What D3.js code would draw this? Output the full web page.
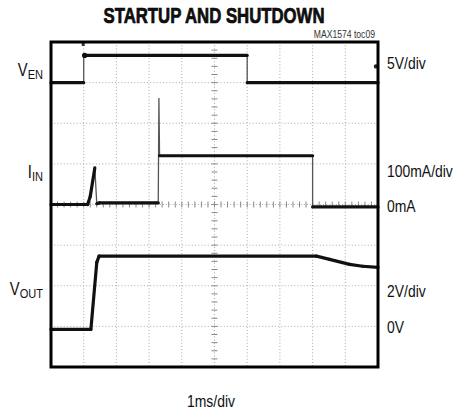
<!DOCTYPE html>
<html>
<head>
<meta charset="utf-8">
<script src="https://cdn.jsdelivr.net/npm/d3@7/dist/d3.min.js"></script>
<style>
  body { margin: 0; background: #fff; }
  text { font-family: "Liberation Sans", Arial, sans-serif; fill: #111; }
</style>
</head>
<body>
<div id="chart"></div>
<script>
// Scope capture, time in ms, each channel in its own units
const venTime = [0, 1.0, 1.0, 6.0, 6.0, 10];
const venVolts = [0, 0, 3.35, 3.35, 0, 0];

const iinTime = [0, 1.12, 1.2, 1.34, 1.4, 1.48, 3.28, 3.3, 3.32, 8.0, 8.0, 10];
const iinMilliamps = [0, 0, 20, 90, 2, 4, 4, 262, 120, 120, -6, -6];

const voutTime = [0, 1.22, 1.4, 1.47, 8.12, 8.52, 9.13, 9.53, 10];
const voutVolts = [-0.15, -0.15, 3.15, 3.46, 3.46, 3.3, 3.05, 2.96, 2.9];

const channels = [
  { name: 'EN', label: 'V', time: venTime, values: venVolts, perDiv: 5, zeroDiv: 7, scaleLabel: '5V/div', zeroLabel: null },
  { name: 'IN', label: 'I', time: iinTime, values: iinMilliamps, perDiv: 100, zeroDiv: 4, scaleLabel: '100mA/div', zeroLabel: '0mA' },
  { name: 'OUT', label: 'V', time: voutTime, values: voutVolts, perDiv: 2, zeroDiv: 1, scaleLabel: '2V/div', zeroLabel: '0V' },
];

const width = 454;
const height = 412;
const plot = { left: 51, right: 378, top: 42, bottom: 367 };
const narrow = 0.82; // horizontal squeeze to mimic the condensed face

const svg = d3.select('#chart').append('svg').attr('width', width).attr('height', height);

const x = d3.scaleLinear().domain([0, 10]).range([plot.left, plot.right]);
const y = d3.scaleLinear().domain([0, 8]).range([plot.bottom, plot.top]);

// condensed text placed at (tx, ty)
function label(tx, ty, size, anchor) {
  return svg.append('text')
    .attr('transform', `translate(${tx},${ty}) scale(${narrow},1)`)
    .attr('text-anchor', anchor || 'start')
    .style('font-size', size + 'px');
}

/* Grid
=========================================================================*/
const grid = svg.append('g').attr('stroke', '#a8a8a8').attr('stroke-dasharray', '1,2.2').attr('stroke-width', 1);

grid.selectAll('.vgrid')
  .data(d3.range(1, 10))
  .enter()
  .append('line')
  .attr('x1', (d) => x(d)).attr('x2', (d) => x(d))
  .attr('y1', plot.top).attr('y2', plot.bottom);

grid.selectAll('.hgrid')
  .data(d3.range(1, 8))
  .enter()
  .append('line')
  .attr('y1', (d) => y(d)).attr('y2', (d) => y(d))
  .attr('x1', plot.left).attr('x2', plot.right);

// minor ticks along the centre lines
const ticks = svg.append('g').attr('stroke', '#888').attr('stroke-width', 1);
ticks.selectAll('.tx')
  .data(d3.range(0, 10.01, 0.2))
  .enter()
  .append('line')
  .attr('x1', (d) => x(d)).attr('x2', (d) => x(d))
  .attr('y1', y(4) - 3).attr('y2', y(4) + 3);
ticks.selectAll('.ty')
  .data(d3.range(0, 8.01, 0.2))
  .enter()
  .append('line')
  .attr('y1', (d) => y(d)).attr('y2', (d) => y(d))
  .attr('x1', x(5) - 3).attr('x2', x(5) + 3);

/* Traces
=========================================================================*/
channels.forEach((ch) => {
  const pts = ch.time.map((t, i) => [x(t), y(ch.zeroDiv + ch.values[i] / ch.perDiv)]);
  const line = d3.line();

  // thin path for fast edges
  svg.append('path')
    .attr('d', line(pts))
    .attr('fill', 'none')
    .attr('stroke', '#555')
    .attr('stroke-width', 1.3);

  // thick trace on the slower parts
  const slow = [];
  for (let i = 1; i < pts.length; i++) {
    if (pts[i][0] - pts[i - 1][0] > 2) slow.push([pts[i - 1], pts[i]]);
  }
  svg.append('g')
    .selectAll('path')
    .data(slow)
    .enter()
    .append('path')
    .attr('d', (d) => line(d))
    .attr('fill', 'none')
    .attr('stroke', '#111')
    .attr('stroke-width', 3.2)
    .attr('stroke-linecap', 'round');
});

// trigger / channel markers
svg.append('circle').attr('cx', plot.right - 2).attr('cy', y(7.4)).attr('r', 2.2).attr('fill', '#222');
svg.append('rect').attr('x', x(1) - 2).attr('y', plot.top).attr('width', 3).attr('height', 4).attr('fill', '#333');
svg.append('circle').attr('cx', x(1) + 1).attr('cy', y(7 + venVolts[2] / 5)).attr('r', 2.6).attr('fill', '#111');

// frame
svg.append('rect')
  .attr('x', plot.left).attr('y', plot.top)
  .attr('width', plot.right - plot.left).attr('height', plot.bottom - plot.top)
  .attr('fill', 'none').attr('stroke', '#000').attr('stroke-width', 3);

/* Labels
=========================================================================*/
svg.append('text')
  .attr('x', 214).attr('y', 23)
  .attr('text-anchor', 'middle')
  .attr('textLength', 221).attr('lengthAdjust', 'spacingAndGlyphs')
  .style('font-size', '22px').style('font-weight', 'bold')
  .style('stroke', '#000').style('stroke-width', 0.7)
  .text('STARTUP AND SHUTDOWN');

label(375, 38, 10.5, 'end').style('fill', '#333').text('MAX1574 toc09');

const leftLabelY = [76, 178, 295];
const rightScaleY = [69, 177, 297];
const rightZeroY = [null, 212, 333];

channels.forEach((ch, i) => {
  const t = label(43, leftLabelY[i], 18, 'end');
  t.append('tspan').text(ch.label);
  t.append('tspan').attr('dy', 3).style('font-size', '13.5px').text(ch.name);

  label(387, rightScaleY[i], 17).text(ch.scaleLabel);

  if (ch.zeroLabel) label(387, rightZeroY[i], 17).text(ch.zeroLabel);
});

label(211, 407, 17, 'middle').text('1ms/div');
</script>
</body>
</html>
